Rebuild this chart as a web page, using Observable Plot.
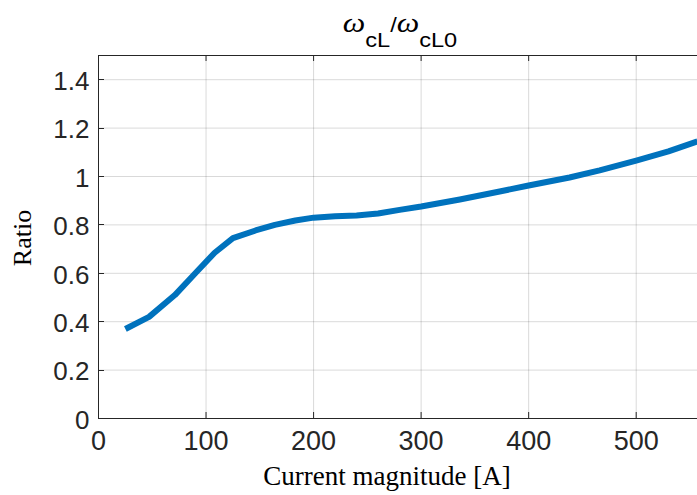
<!DOCTYPE html>
<html>
<head>
<meta charset="utf-8">
<script src="https://cdn.jsdelivr.net/npm/d3@7"></script>
<script src="https://cdn.jsdelivr.net/npm/@observablehq/plot@0.6"></script>
<style>
  html, body { margin: 0; padding: 0; background: #fff; }
  #chart { width: 697px; height: 495px; }
</style>
</head>
<body>
<div id="chart"></div>
<script>
const current = [25, 47, 71, 90, 108, 125, 146, 164, 183, 200, 220, 240, 260, 280, 300, 336, 373, 400, 438, 466, 500, 530, 557];
const ratio = [0.37, 0.42, 0.51, 0.60, 0.685, 0.745, 0.777, 0.80, 0.818, 0.83, 0.836, 0.839, 0.847, 0.862, 0.876, 0.905, 0.938, 0.963, 0.996, 1.025, 1.066, 1.104, 1.145];
const xTicks = [0, 100, 200, 300, 400, 500];
const yTicks = [0, 0.2, 0.4, 0.6, 0.8, 1, 1.2, 1.4];
const yTickLabels = ["0", "0.2", "0.4", "0.6", "0.8", "1", "1.2", "1.4"];
const titleMain = "ω";
const titleSub1 = "cL";
const titleSub2 = "cL0";
const xLabel = "Current magnitude [A]";
const yLabel = "Ratio";

const data = current.map((c, i) => ({current: c, ratio: ratio[i]}));

const W = 697, H = 495, mL = 98, mR = 0, mT = 55, mB = 77;
const plotH = H - mT - mB;
const tickLen = 6;
const axisColor = "#262626";
const sansFont = "'Liberation Sans', Arial, sans-serif";
const serifFont = "'Liberation Serif', 'Times New Roman', serif";

const chart = Plot.plot({
  width: W,
  height: H,
  marginLeft: mL,
  marginRight: mR,
  marginTop: mT,
  marginBottom: mB,
  style: {background: "#fff", overflow: "visible"},
  x: {domain: [0, 557]},
  y: {domain: [0, 1.5]},
  marks: [
    Plot.ruleX(xTicks.slice(1), {stroke: "#000", strokeOpacity: 0.15}),
    Plot.ruleY(yTicks.slice(1), {stroke: "#000", strokeOpacity: 0.15}),
    Plot.line(data, {x: "current", y: "ratio", stroke: "#0072BD", strokeWidth: 6, strokeLinecap: "butt", strokeLinejoin: "round", clip: true}),
    // axis lines
    Plot.ruleY([0], {stroke: axisColor}),
    Plot.ruleY([1.5], {stroke: axisColor}),
    Plot.ruleX([0], {stroke: axisColor}),
    // inward ticks bottom & top
    Plot.ruleX(xTicks.slice(1), {stroke: axisColor, insetTop: plotH - tickLen}),
    Plot.ruleX(xTicks.slice(1), {stroke: axisColor, insetBottom: plotH - tickLen}),
    Plot.axisX(xTicks, {tickSize: 0, tickPadding: 12, fontSize: 27, fontFamily: sansFont, fill: axisColor, label: null}),
    Plot.axisY(yTicks, {tickSize: 0, tickPadding: 9, dy: 2, fontSize: 26, fontFamily: sansFont, fill: axisColor, label: null, tickFormat: (d, i) => yTickLabels[i]})
  ]
});

document.getElementById("chart").appendChild(chart);

const svg = d3.select(chart);
// left inward ticks, positioned through the plot's own scales
const ys = chart.scale("y");
const xs = chart.scale("x");
const tg = svg.append("g").attr("stroke", axisColor);
yTicks.slice(1).forEach(v => {
  const y = Math.round(ys.apply(v)) + 0.5;
  tg.append("line").attr("x1", xs.apply(0)).attr("x2", xs.apply(0) + tickLen).attr("y1", y).attr("y2", y);
});

// title
const t = svg.append("text")
  .attr("transform", "translate(400,32) scale(1.18,1)")
  .attr("text-anchor", "middle")
  .attr("fill", "#000")
  .style("font-family", sansFont)
  .style("font-size", "20px");
t.append("tspan").style("font-style", "italic").style("font-family", serifFont).style("font-size", "27px").text(titleMain);
t.append("tspan").attr("dy", 15).text(titleSub1);
t.append("tspan").attr("dy", -15).text("/");
t.append("tspan").style("font-style", "italic").style("font-family", serifFont).style("font-size", "27px").text(titleMain);
t.append("tspan").attr("dy", 15).text(titleSub2);

// x label
svg.append("text")
  .attr("x", 387).attr("y", 485)
  .attr("text-anchor", "middle")
  .attr("fill", "#000")
  .style("font-family", serifFont)
  .style("font-size", "27px")
  .text(xLabel);

// y label
svg.append("text")
  .attr("transform", "translate(31,238) rotate(-90)")
  .attr("text-anchor", "middle")
  .attr("fill", "#000")
  .style("font-family", serifFont)
  .style("font-size", "26px")
  .text(yLabel);
</script>
</body>
</html>
